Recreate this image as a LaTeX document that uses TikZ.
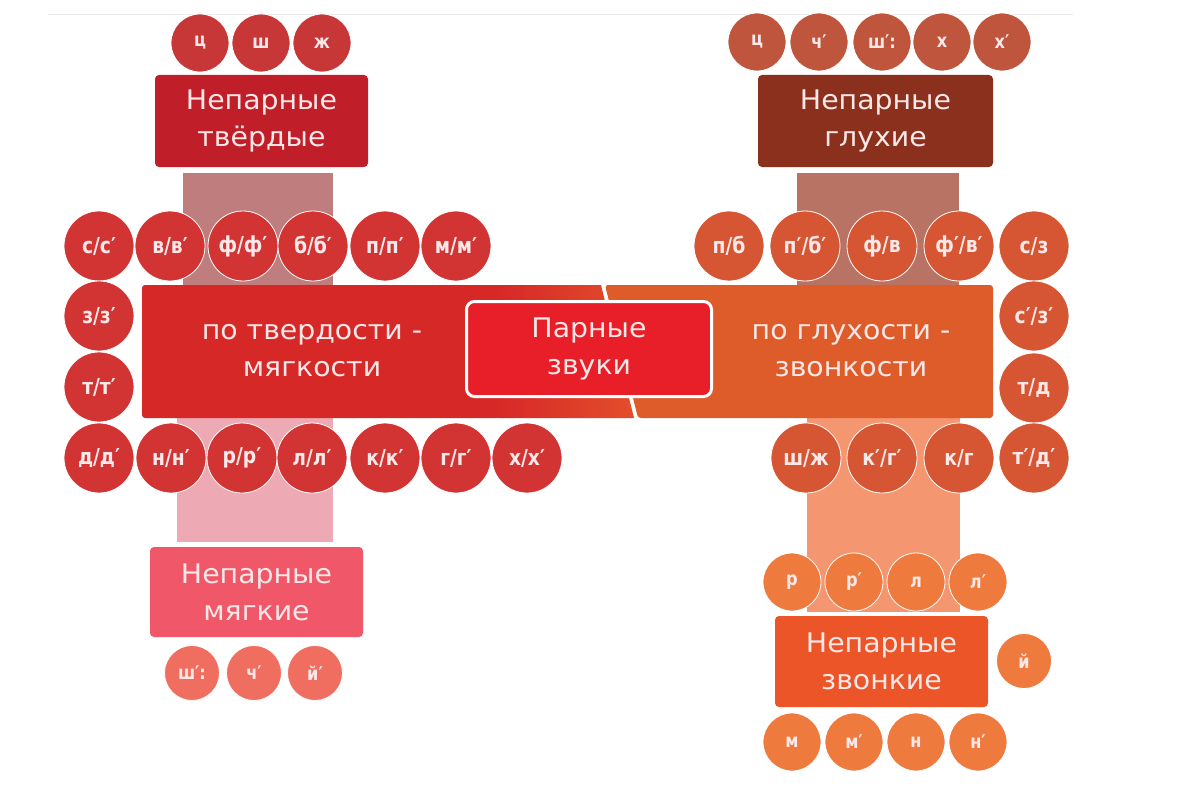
\documentclass[tikz,border=0pt]{standalone}
\usepackage{fontspec}
\setmainfont{DejaVu Sans}
\newfontfamily\cfont{DejaVu Sans}[FakeStretch=0.85]
\newfontfamily\bfont{DejaVu Sans}[FakeStretch=1.05]
\definecolor{txt}{RGB}{252,232,232}
\definecolor{cTL}{RGB}{200,55,55}
\definecolor{boxTL}{RGB}{192,30,40}
\definecolor{bandTL}{RGB}{192,125,125}
\definecolor{cTR}{RGB}{190,85,60}
\definecolor{boxTR}{RGB}{140,48,30}
\definecolor{bandTR}{RGB}{185,115,100}
\definecolor{cRed}{RGB}{210,52,52}
\definecolor{cOr}{RGB}{214,85,50}
\definecolor{barL}{RGB}{215,40,40}
\definecolor{barLend}{RGB}{226,78,42}
\definecolor{barR}{RGB}{222,92,42}
\definecolor{center}{RGB}{232,30,40}
\definecolor{bandBL}{RGB}{238,170,180}
\definecolor{boxBL}{RGB}{240,88,105}
\definecolor{cBL}{RGB}{240,110,95}
\definecolor{bandBR}{RGB}{244,150,112}
\definecolor{cBR}{RGB}{238,122,62}
\definecolor{boxBR}{RGB}{236,85,40}
\begin{document}
\begin{tikzpicture}[x=1pt,y=-1pt,
  circ/.style={circle, draw=white, line width=0.8pt, inner sep=0pt, text=txt},
  bigc/.style={circ, minimum size=70pt, font=\cfont\bfseries\fontsize{22}{22}\selectfont},
  midc/.style={circ, minimum size=58pt, font=\cfont\bfseries\fontsize{19}{19}\selectfont},
  smallc/.style={circ, minimum size=55pt, font=\cfont\bfseries\fontsize{19}{19}\selectfont},
  lbl/.style={rounded corners=4pt, text=txt, font=\bfont\fontsize{27}{37}\selectfont, align=center, inner sep=0pt},
  bartext/.style={text=txt, font=\bfont\fontsize{27}{37}\selectfont, align=center},
]
\useasboundingbox (0,0) rectangle (1179,808);
\fill[white] (0,0) rectangle (1179,808);
\draw[black!8, line width=0.8pt] (48,14) -- (1073,14);

% bands
\fill[bandTL] (183,173) rectangle (333,285);
\fill[bandTR] (797,173) rectangle (959,285);
\fill[bandBL] (177,418) rectangle (333,542);
\fill[bandBR] (807,418) rectangle (960,612);

% main bar
\fill[barL, rounded corners=3pt]
  (142,285) -- (500,285) -- (500,418) -- (142,418) -- cycle;
\shade[left color=barL, right color=barLend, sharp corners]
  (498,285) -- (601,285) -- (634,418) -- (498,418) -- cycle;
\fill[barR, rounded corners=3pt] (605,285) -- (993,285) -- (993,418) -- (638,418) -- cycle;

\node[bartext] (hard) at (312,351) {по твердости -\\мягкости};
\node[bartext] (voice) at (851,351) {по глухости -\\звонкости};
\node[lbl, fill=center, draw=white, line width=3pt, rounded corners=8pt,
  minimum width=245pt, minimum height=95pt] (pair) at (589,349) {Парные\\звуки};

% top-left
\node[lbl, fill=boxTL, minimum width=213pt, minimum height=92pt] (nt) at (261.5,121) {Непарные\\твёрдые};
\foreach \n/\x/\t in {a/200/ц, b/261/ш, c/322/ж}
  \node[midc, fill=cTL] (tl\n) at (\x,43) {\t};

% top-right
\node[lbl, fill=boxTR, minimum width=235pt, minimum height=92pt] (ng) at (875.5,121) {Непарные\\глухие};
\foreach \n/\x/\t in {a/757/ц, b/819/ч′, c/882/ш′:, d/942/х, e/1002/х′}
  \node[midc, fill=cTR] (tr\n) at (\x,42) {\t};

% left paired circles
\foreach \n/\x/\t in {a/99/{с/с′}, b/170/{в/в′}, c/243/{ф/ф′}, d/313/{б/б′}, e/385/{п/п′}, f/456/{м/м′}}
  \node[bigc, fill=cRed] (lt\n) at (\x,246) {\t};
\foreach \n/\y/\t in {a/316/{з/з′}, b/387/{т/т′}}
  \node[bigc, fill=cRed] (lc\n) at (99,\y) {\t};
\foreach \n/\x/\t in {a/99/{д/д′}, b/171/{н/н′}, c/242/{р/р′}, d/312/{л/л′}, e/385/{к/к′}, f/456/{г/г′}, g/527/{х/х′}}
  \node[bigc, fill=cRed] (lb\n) at (\x,458) {\t};

% right paired circles
\foreach \n/\x/\t in {a/729/{п/б}, b/805/{п′/б′}, c/882/{ф/в}, d/959/{ф′/в′}, e/1034/{с/з}}
  \node[bigc, fill=cOr] (rt\n) at (\x,246) {\t};
\foreach \n/\y/\t in {a/316/{с′/з′}, b/388/{т/д}}
  \node[bigc, fill=cOr] (rc\n) at (1034,\y) {\t};
\foreach \n/\x/\t in {a/806/{ш/ж}, b/882/{к′/г′}, c/959/{к/г}, d/1034/{т′/д′}}
  \node[bigc, fill=cOr] (rb\n) at (\x,458) {\t};

% bottom-left
\node[lbl, fill=boxBL, minimum width=213pt, minimum height=90pt] (nm) at (256.5,592) {Непарные\\мягкие};
\foreach \n/\x/\t in {a/192/ш′:, b/254/ч′, c/315/й′}
  \node[smallc, fill=cBL] (bl\n) at (\x,673) {\t};

% bottom-right
\foreach \n/\x/\t in {a/792/р, b/854/р′, c/916/л, d/978/л′}
  \node[midc, fill=cBR] (bru\n) at (\x,582) {\t};
\node[lbl, fill=boxBR, minimum width=213pt, minimum height=91pt] (nz) at (881.5,661.5) {Непарные\\звонкие};
\node[smallc, fill=cBR] (brj) at (1024,661) {й};
\foreach \n/\x/\t in {a/792/м, b/854/м′, c/916/н, d/978/н′}
  \node[midc, fill=cBR] (brl\n) at (\x,742) {\t};
\end{tikzpicture}
\end{document}
